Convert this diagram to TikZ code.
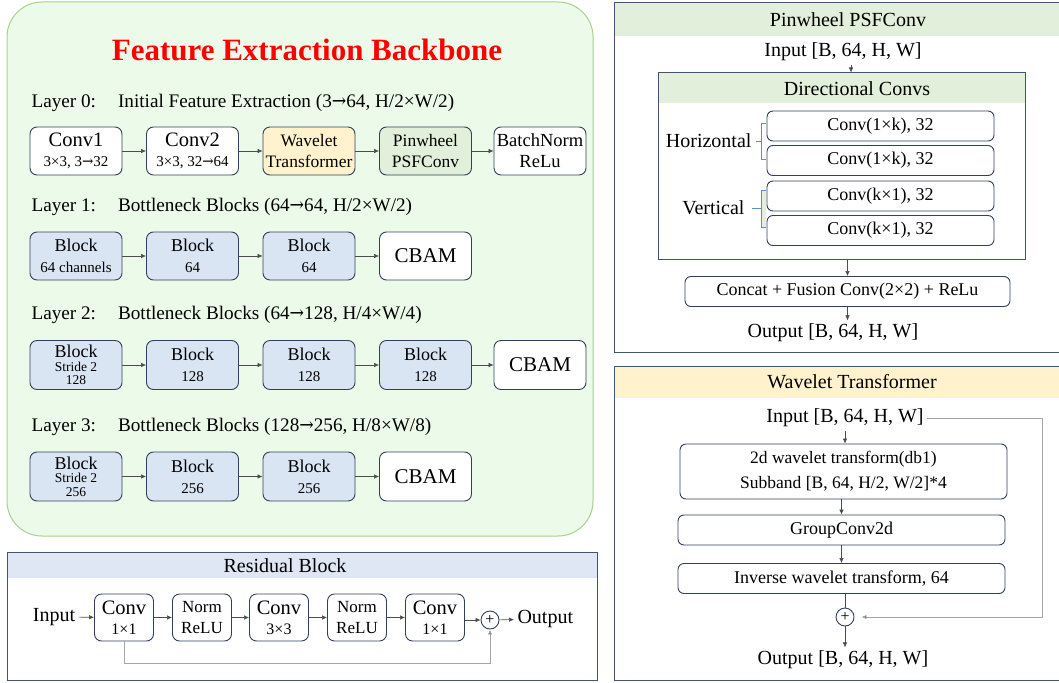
\documentclass[tikz,border=0pt]{standalone}
\usepackage{fontspec}
\setmainfont{Liberation Serif}
\newfontfamily\symfont{DejaVu Serif}
\usetikzlibrary{arrows.meta}

\definecolor{bbfill}{RGB}{236,250,233}
\definecolor{bbline}{RGB}{169,209,142}
\definecolor{boxline}{RGB}{50,64,92}
\definecolor{panelline}{RGB}{68,84,106}
\definecolor{blockfill}{RGB}{218,229,243}
\definecolor{wavefill}{RGB}{255,242,204}
\definecolor{pinfill}{RGB}{226,239,218}
\definecolor{resfill}{RGB}{222,231,243}
\definecolor{skipgray}{RGB}{166,166,166}
\definecolor{brkblue}{RGB}{91,143,208}

\newcommand{\fsz}[1]{\fontsize{#1}{#1}\selectfont}
\newcommand{\subtxt}[1]{{\fsz{15}#1}}
\newcommand{\ra}{{\symfont\scalebox{0.9}[1]{→}}}

\tikzset{
  box/.style={draw=boxline, line width=0.9pt, rounded corners=7pt, fill=white,
    minimum width=92pt, minimum height=48pt, align=center, inner sep=0pt,
    font=\fontsize{20.5}{20}\selectfont},
  twoline/.style={font=\fontsize{17.5}{21}\selectfont},
  block/.style={box, fill=blockfill, font=\fontsize{18}{21}\selectfont},
  cbam/.style={box, font=\fsz{21}},
  rbox/.style={box, minimum width=59pt, minimum height=47pt},
  cbox/.style={box, minimum width=227pt, minimum height=30pt, rounded corners=6pt,
    font=\fsz{18}},
  plus/.style={circle, draw=boxline, line width=0.9pt, inner sep=0pt,
    minimum size=18pt, font=\fsz{16}},
  panel/.style={draw=panelline, line width=1pt},
  lbl/.style={font=\fsz{19.2}},
  big/.style={font=\fsz{20}},
  arr/.style={-{Latex[length=5pt,width=4.5pt]}, line width=0.6pt, draw=black!70},
  skip/.style={arr, draw=skipgray, line width=0.9pt},
  brk/.style={draw=brkblue, line width=0.9pt},
}

\begin{document}
\begin{tikzpicture}[x=1pt,y=-1pt]
  \useasboundingbox (0,0) rectangle (1059,682);

  % ---------------- feature extraction backbone ----------------
  \draw[draw=bbline, fill=bbfill, line width=1pt, rounded corners=35pt]
    (7,2) rectangle (593,536);
  \node[font=\fontsize{31}{34}\selectfont\bfseries, text=red] (title) at (307,50)
    {Feature Extraction Backbone};

  % layer 0
  \node[lbl, anchor=west] (l0) at (28,103)
    {Layer 0:\hspace{22pt}Initial Feature Extraction (3\ra64, H/2×W/2)};
  \node[box] (c1) at (76,151) {Conv1\\\subtxt{3×3, 3\ra32}};
  \node[box] (c2) at (192.5,151) {Conv2\\\subtxt{3×3, 32\ra64}};
  \node[box, twoline, fill=wavefill] (wt) at (309,151) {Wavelet\\Transformer};
  \node[box, twoline, fill=pinfill] (pw) at (425.5,151) {Pinwheel\\PSFConv};
  \node[box, font=\fontsize{18.5}{21}\selectfont] (bn) at (540,151) {BatchNorm\\ReLu};
  \draw[arr] (c1) -- (c2);
  \draw[arr] (c2) -- (wt);
  \draw[arr] (wt) -- (pw);
  \draw[arr] (pw) -- (bn);

  % layer 1
  \node[lbl, anchor=west] (l1) at (28,207)
    {Layer 1:\hspace{22pt}Bottleneck Blocks (64\ra64, H/2×W/2)};
  \node[block] (b11) at (76,256) {Block\\\subtxt{64 channels}};
  \node[block] (b12) at (192.5,256) {Block\\\subtxt{64}};
  \node[block] (b13) at (309,256) {Block\\\subtxt{64}};
  \node[cbam] (a1) at (425.5,256) {CBAM};
  \draw[arr] (b11) -- (b12);
  \draw[arr] (b12) -- (b13);
  \draw[arr] (b13) -- (a1);

  % layer 2
  \node[lbl, anchor=west] (l2) at (28,315)
    {Layer 2:\hspace{22pt}Bottleneck Blocks (64\ra128, H/4×W/4)};
  \node[block, minimum height=49pt, font=\fontsize{18}{13.5}\selectfont] (b21) at (76,365)
    {Block\\{\fsz{13.5}Stride 2}\\{\fsz{13.5}128}};
  \node[block, minimum height=49pt] (b22) at (192.5,365) {Block\\\subtxt{128}};
  \node[block, minimum height=49pt] (b23) at (309,365) {Block\\\subtxt{128}};
  \node[block, minimum height=49pt] (b24) at (425.5,365) {Block\\\subtxt{128}};
  \node[cbam, minimum height=49pt] (a2) at (540,365) {CBAM};
  \draw[arr] (b21) -- (b22);
  \draw[arr] (b22) -- (b23);
  \draw[arr] (b23) -- (b24);
  \draw[arr] (b24) -- (a2);

  % layer 3
  \node[lbl, anchor=west] (l3) at (28,427)
    {Layer 3:\hspace{22pt}Bottleneck Blocks (128\ra256, H/8×W/8)};
  \node[block, minimum height=49pt, font=\fontsize{18}{13.5}\selectfont] (b31) at (76,476.5)
    {Block\\{\fsz{13.5}Stride 2}\\{\fsz{13.5}256}};
  \node[block, minimum height=49pt] (b32) at (192.5,476.5) {Block\\\subtxt{256}};
  \node[block, minimum height=49pt] (b33) at (309,476.5) {Block\\\subtxt{256}};
  \node[cbam, minimum height=49pt] (a3) at (425.5,476.5) {CBAM};
  \draw[arr] (b31) -- (b32);
  \draw[arr] (b32) -- (b33);
  \draw[arr] (b33) -- (a3);

  % ---------------- residual block ----------------
  \fill[resfill] (7,552) rectangle (597,578);
  \draw[panel] (7,552) rectangle (597,680);
  \node[big] (rtitle) at (285,566) {Residual Block};
  \node[big] (rin) at (54,617) {Input};
  \node[rbox] (r1) at (124,617.5) {Conv\\{\fsz{16}1×1}};
  \node[rbox, font=\fontsize{17}{21}\selectfont] (r2) at (202,617.5) {Norm\\ReLU};
  \node[rbox] (r3) at (279,617.5) {Conv\\{\fsz{16}3×3}};
  \node[rbox, font=\fontsize{17}{21}\selectfont] (r4) at (357,617.5) {Norm\\ReLU};
  \node[rbox] (r5) at (435,617.5) {Conv\\{\fsz{16}1×1}};
  \node[plus] (rplus) at (490,620) {+};
  \node[big, anchor=west] (rout) at (514,619) {Output};
  \draw[arr] (rin) -- (r1);
  \draw[arr] (r1) -- (r2);
  \draw[arr] (r2) -- (r3);
  \draw[arr] (r3) -- (r4);
  \draw[arr] (r4) -- (r5);
  \draw[arr] (r5.east |- rplus) -- (rplus);
  \draw[arr] (rplus) -- (rout);
  \draw[draw=skipgray, line width=0.9pt] (r1.south) -- ++(0,22) coordinate (rk);
  \draw[skip, -{Latex[length=5pt,width=4.5pt,fill=black]}] (rk) -| (rplus.south);

  % ---------------- pinwheel psfconv ----------------
  \fill[pinfill] (614,3) rectangle (1059,36);
  \draw[panel] (1059,3) -- (614,3) -- (614,352) -- (1059,352);
  \node[big] (ptitle) at (848,20) {Pinwheel PSFConv};
  \node[big] (pin) at (843,52) {Input [B, 64, H, W]};
  \fill[pinfill] (658,73) rectangle (1025,103);
  \node[draw=panelline, line width=1pt, minimum width=367pt, minimum height=186pt,
    inner sep=0pt] (dir) at (841.5,166) {};
  \node[big] (dtitle) at (857,89) {Directional Convs};
  \node[cbox] (h1) at (880.5,126) {Conv(1×k), 32};
  \node[cbox] (h2) at (880.5,160.5) {Conv(1×k), 32};
  \node[cbox] (v1) at (880.5,196) {Conv(k×1), 32};
  \node[cbox] (v2) at (880.5,230.5) {Conv(k×1), 32};
  \node[big, anchor=east] (hz) at (755,141) {Horizontal};
  \node[big, anchor=east] (vt) at (748,208) {Vertical};
  \draw[brk] (766,123) -- (761,123) -- (761,159) -- (766,159);
  \draw[brk] (756,141) -- (761,141);
  \filldraw[brk, fill=pinfill] (766,190) -- (761,190) -- (761,227) -- (766,227);
  \draw[brk] (752,208) -- (761,208);
  \node[cbox, minimum width=325pt] (cat) at (847.5,291.5)
    {Concat + Fusion Conv(2×2) + ReLu};
  \node[big] (pout) at (833,333) {Output [B, 64, H, W]};
  \draw[arr] ([xshift=8pt]pin.south) -- ([xshift=8pt]pin.south |- dir.north);
  \draw[arr] (cat.north |- dir.south) -- (cat.north);
  \draw[arr] (cat.south) -- (cat.south |- pout.north);

  % ---------------- wavelet transformer ----------------
  \fill[wavefill] (614,366) rectangle (1059,398);
  \draw[panel] (1059,366) -- (614,366) -- (614,680) -- (1059,680);
  \node[big] (wtitle) at (852,382) {Wavelet Transformer};
  \node[big] (win) at (845,418) {Input [B, 64, H, W]};
  \node[cbox, minimum width=327pt, minimum height=55pt,
    font=\fontsize{17.5}{25}\selectfont] (w1) at (843.5,471.5)
    {2d wavelet transform(db1)\\Subband [B, 64, H/2, W/2]*4};
  \node[cbox, minimum width=327pt] (w2) at (841.5,530) {GroupConv2d};
  \node[cbox, minimum width=327pt] (w3) at (841.5,578.5) {Inverse wavelet transform, 64};
  \node[plus] (wplus) at (845,617) {+};
  \node[big] (wout) at (843,660) {Output [B, 64, H, W]};
  \draw[arr] (win.south) -- (win.south |- w1.north);
  \draw[arr] (w1.south -| w2.north) -- (w2.north);
  \draw[arr] (w2) -- (w3);
  \draw[draw=black!70, line width=0.6pt] (w3.south -| wplus) -- (wplus);
  \draw[arr] (wplus) -- (wplus |- wout.north);
  \draw[skip, -{Latex[length=5pt,width=4.5pt,fill=black]}, shorten >=7pt]
    (win.east) -- (1042,418) |- (wplus.east);

\end{tikzpicture}
\end{document}
